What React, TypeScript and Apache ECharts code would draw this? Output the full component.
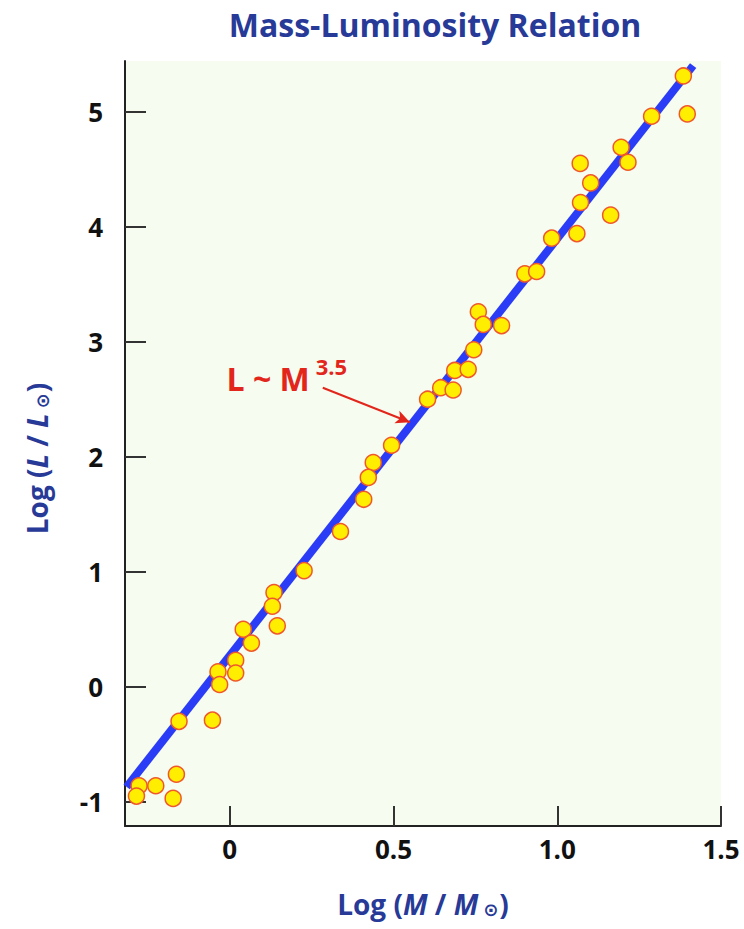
import React, { useEffect, useRef } from "react";
import * as echarts from "echarts";

const titleText = "Mass-Luminosity Relation";
const xTickValues = [0, 0.5, 1.0, 1.5];
const xTickLabels = ["0", "0.5", "1.0", "1.5"];
const yTickValues = [-1, 0, 1, 2, 3, 4, 5];
const yTickLabels = ["-1", "0", "1", "2", "3", "4", "5"];

// log(M/Msun), log(L/Lsun) stars
const starLogM = [
  1.385, 1.397, 1.288, 1.195, 1.216, 1.07, 1.102, 1.071, 1.163, 1.06, 0.983,
  0.901, 0.937, 0.759, 0.774, 0.83, 0.745, 0.687, 0.728, 0.644, 0.682, 0.604,
  0.494, 0.438, 0.423, 0.409, 0.338, 0.227, 0.135, 0.13, 0.145, 0.041, 0.066,
  0.018, 0.018, -0.036, -0.031, -0.155, -0.053, -0.163, -0.226, -0.277, -0.285,
  -0.173,
];
const starLogL = [
  5.31, 4.98, 4.96, 4.69, 4.56, 4.55, 4.38, 4.21, 4.1, 3.94, 3.9, 3.59, 3.61,
  3.26, 3.15, 3.14, 2.93, 2.75, 2.76, 2.6, 2.58, 2.5, 2.1, 1.95, 1.82, 1.63,
  1.35, 1.01, 0.82, 0.7, 0.53, 0.5, 0.38, 0.23, 0.12, 0.13, 0.02, -0.3, -0.29,
  -0.76, -0.86, -0.86, -0.95, -0.97,
];

// fitted relation line endpoints
const fitLogM = [-0.315, 1.415];
const fitLogL = [-0.87, 5.4];

// annotation "L ~ M^3.5"
const annotLabelAt = [-0.01, 2.713];
const arrowFrom = [0.284, 2.6];
const arrowTo = [0.55, 2.3];

const FONT = "'Open Sans', 'DejaVu Sans', sans-serif";
const BLUE_TEXT = "#283a97";
const RED = "#e2261c";

const nameRich = {
  n: { fontFamily: FONT, fontWeight: "bold", fontSize: 28, color: BLUE_TEXT, lineHeight: 38, verticalAlign: "bottom" },
  i: { fontFamily: FONT, fontWeight: "bold", fontStyle: "italic", fontSize: 28, color: BLUE_TEXT, lineHeight: 38, verticalAlign: "bottom" },
  s: { fontFamily: "'DejaVu Sans', sans-serif", fontWeight: "bold", fontSize: 18, color: BLUE_TEXT, lineHeight: 18, verticalAlign: "bottom", padding: [0, 1, 0, 5] },
};

export default function App() {
  const ref = useRef<HTMLDivElement>(null);
  useEffect(() => {
    if (!ref.current) return;
    const chart = echarts.init(ref.current, undefined, { renderer: "svg" });
    const stars = starLogM.map((m, i) => [m, starLogL[i]]);
    const fit = fitLogM.map((m, i) => [m, fitLogL[i]]);
    chart.setOption({
      animation: false,
      backgroundColor: "#ffffff",
      title: {
        text: titleText,
        left: 430,
        top: 3,
        textAlign: "center",
        textStyle: {
          fontFamily: FONT,
          fontWeight: "bold",
          fontSize: 32,
          color: BLUE_TEXT,
        },
      },
      grid: {
        left: 125,
        right: 23,
        top: 61,
        bottom: 103,
        show: true,
        backgroundColor: "#f6fcef",
        borderWidth: 0,
      },
      xAxis: {
        type: "value",
        min: -0.32,
        max: 1.5,
        splitLine: { show: false },
        axisLine: { show: true, onZero: false, lineStyle: { color: "#222", width: 2 } },
        axisTick: {
          show: true,
          inside: true,
          length: 20,
          customValues: xTickValues,
          lineStyle: { color: "#333", width: 2 },
        },
        axisLabel: {
          customValues: xTickValues,
          margin: 10,
          fontFamily: FONT,
          fontWeight: "bold",
          fontSize: 26,
          color: "#111",
          formatter: (v: number) => {
            const i = xTickValues.findIndex((t) => Math.abs(t - v) < 1e-9);
            return i >= 0 ? xTickLabels[i] : "";
          },
        },
        name: "{n|Log (}{i|M}{n| / }{i|M}{s|⊙}{n|)}",
        nameLocation: "middle",
        nameGap: 54,
        nameTextStyle: { rich: nameRich },
      },
      yAxis: {
        type: "value",
        min: -1.21,
        max: 5.44,
        splitLine: { show: false },
        axisLine: { show: true, onZero: false, lineStyle: { color: "#222", width: 2 } },
        axisTick: {
          show: true,
          inside: true,
          length: 21,
          customValues: yTickValues,
          lineStyle: { color: "#333", width: 2 },
        },
        axisLabel: {
          customValues: yTickValues,
          margin: 22,
          fontFamily: FONT,
          fontWeight: "bold",
          fontSize: 26,
          color: "#111",
          formatter: (v: number) => {
            const i = yTickValues.findIndex((t) => Math.abs(t - v) < 1e-9);
            return i >= 0 ? yTickLabels[i] : "";
          },
        },
        name: "{n|Log (}{i|L}{n| / }{i|L}{s|⊙}{n|)}",
        nameLocation: "middle",
        nameRotate: 90,
        nameGap: 74,
        nameTextStyle: { rich: nameRich, padding: [0, 30, 0, 0] },
      },
      series: [
        {
          type: "line",
          data: fit,
          symbol: "none",
          silent: true,
          z: 2,
          lineStyle: { color: "#2b3cf6", width: 8, cap: "butt" },
          markLine: {
            silent: true,
            symbol: ["none", "arrow"],
            symbolSize: [10, 14],
            label: { show: false },
            lineStyle: { color: RED, width: 2, type: "solid" },
            data: [[{ coord: arrowFrom }, { coord: arrowTo }]],
          },
          markPoint: {
            silent: true,
            symbol: "circle",
            symbolSize: 0,
            data: [{ coord: annotLabelAt, value: 0 }],
            label: {
              show: true,
              position: "right",
              distance: 0,
              formatter: "{m|L ~ M}{s|3.5}",
              rich: {
                m: { fontFamily: FONT, fontWeight: "bold", fontSize: 32, color: RED, lineHeight: 40, verticalAlign: "bottom" },
                s: { fontFamily: FONT, fontWeight: "bold", fontSize: 22, color: RED, lineHeight: 22, verticalAlign: "top", padding: [0, 0, 0, 6] },
              },
            },
          },
        },
        {
          type: "scatter",
          data: stars,
          symbol: "circle",
          symbolSize: 16,
          z: 3,
          itemStyle: { color: "#ffee00", borderColor: "#f0582a", borderWidth: 1.5, opacity: 1 },
        },
      ],
    });
    return () => chart.dispose();
  }, []);
  return (
    <div
      ref={ref}
      style={{ position: "fixed", left: 0, top: 0, width: 744, height: 929 }}
    />
  );
}
